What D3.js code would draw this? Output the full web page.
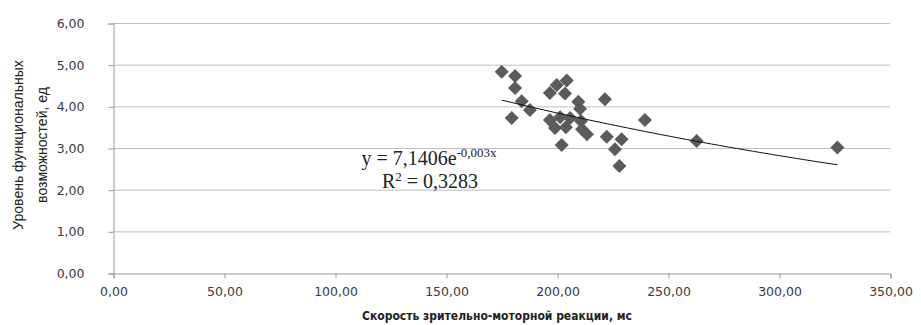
<!DOCTYPE html>
<html>
<head>
<meta charset="utf-8">
<script src="https://cdn.jsdelivr.net/npm/d3@7"></script>
<style>
  body { margin: 0; background: #fff; }
  svg { display: block; }
</style>
</head>
<body>
<div id="chart"></div>
<script>
var width = 921,
    height = 325;

// reaction time, ms
var speedValues = [175.1, 181.1, 181.1, 184.1, 187.8, 179.6,
    204.4, 199.9, 196.8, 203.6, 209.6, 210.4, 221.6,
    196.8, 201.4, 199.1, 204.0, 205.9, 210.8, 211.3, 213.5, 202.1,
    222.4, 229.1, 226.1, 228.1, 239.6, 262.9, 326.3];
// functional capability level
var levelValues = [4.83, 4.73, 4.44, 4.12, 3.91, 3.72,
    4.62, 4.51, 4.32, 4.31, 4.11, 3.94, 4.17,
    3.67, 3.74, 3.48, 3.50, 3.72, 3.65, 3.45, 3.33, 3.07,
    3.27, 3.21, 2.97, 2.57, 3.67, 3.17, 3.01];

var xTicks = [0, 50, 100, 150, 200, 250, 300, 350];
var yTicks = [0, 1, 2, 3, 4, 5, 6];

// exponential trend y = a * e^(b x)
var trendA = 7.1406,
    trendB = -0.0031;

var fmt = function(v) { return d3.format(".2f")(v).replace(".", ","); };

var x = d3.scaleLinear().domain([0, 350]).range([113, 890]);
var y = d3.scaleLinear().domain([0, 6]).range([273, 23]);

var svg = d3.select("#chart").append("svg")
    .attr("width", width)
    .attr("height", height);

// gridlines
svg.append("g")
    .selectAll("line")
    .data(yTicks.filter(function(d) { return d > 0; }))
    .enter().append("line")
    .attr("x1", x(0)).attr("x2", x(350))
    .attr("y1", function(d) { return y(d) + 0.5; })
    .attr("y2", function(d) { return y(d) + 0.5; })
    .attr("stroke", "#c0c0c0");

// y axis
var yAxis = svg.append("g")
    .attr("transform", "translate(" + (x(0) + 0.5) + ",0.5)")
    .call(d3.axisLeft(y).tickValues(yTicks).tickFormat(fmt).tickSize(5).tickPadding(24));
yAxis.select(".domain").attr("stroke", "#9a9a9a");
yAxis.selectAll(".tick line").attr("stroke", "#9a9a9a");
yAxis.selectAll("text")
    .attr("font-family", "DejaVu Sans, Verdana, sans-serif")
    .attr("font-size", 12.5)
    .attr("fill", "#3a3a3a");

// x axis
var xAxis = svg.append("g")
    .attr("transform", "translate(0.5," + (y(0) + 0.5) + ")")
    .call(d3.axisBottom(x).tickValues(xTicks).tickFormat(fmt).tickSize(5).tickPadding(9));
xAxis.select(".domain").attr("stroke", "#9a9a9a");
xAxis.selectAll(".tick line").attr("stroke", "#9a9a9a");
xAxis.selectAll("text")
    .attr("font-family", "DejaVu Sans, Verdana, sans-serif")
    .attr("font-size", 12.5)
    .attr("fill", "#3a3a3a");

// points
var points = speedValues.map(function(d, i) { return [d, levelValues[i]]; });
svg.append("g")
    .selectAll("path")
    .data(points)
    .enter().append("path")
    .attr("d", d3.symbol().type(d3.symbolSquare).size(98))
    .attr("transform", function(d) {
        return "translate(" + x(d[0]) + "," + y(d[1]) + ") rotate(45)";
    })
    .attr("fill", "#5b5b5b");

// trend line
var xMin = d3.min(speedValues), xMax = d3.max(speedValues);
var trend = d3.range(xMin, xMax + 0.01, (xMax - xMin) / 40).map(function(v) {
    return [v, trendA * Math.exp(trendB * v)];
});
svg.append("path")
    .datum(trend)
    .attr("d", d3.line().x(function(d) { return x(d[0]); }).y(function(d) { return y(d[1]); }))
    .attr("fill", "none")
    .attr("stroke", "#111")
    .attr("stroke-width", 1);

// equation
var eq = svg.append("text")
    .attr("x", 429).attr("y", 165)
    .attr("text-anchor", "middle")
    .attr("font-family", "Liberation Serif, Times New Roman, serif")
    .attr("font-size", 20)
    .attr("fill", "#222");
eq.append("tspan").text("y = 7,1406e");
eq.append("tspan").attr("dy", -8).attr("font-size", 13).text("-0,003x");

var r2 = svg.append("text")
    .attr("x", 430).attr("y", 188)
    .attr("text-anchor", "middle")
    .attr("font-family", "Liberation Serif, Times New Roman, serif")
    .attr("font-size", 20)
    .attr("fill", "#222");
r2.append("tspan").text("R");
r2.append("tspan").attr("dy", -7).attr("font-size", 13).text("2");
r2.append("tspan").attr("dy", 7).text(" = 0,3283");

// axis titles
svg.append("text")
    .attr("transform", "translate(23,145) rotate(-90)")
    .attr("text-anchor", "middle")
    .attr("font-family", "Liberation Sans, Arial, sans-serif")
    .attr("font-size", 14)
    .attr("fill", "#222")
    .text("Уровень функциональных");
svg.append("text")
    .attr("transform", "translate(47,145) rotate(-90)")
    .attr("text-anchor", "middle")
    .attr("font-family", "Liberation Sans, Arial, sans-serif")
    .attr("font-size", 14)
    .attr("fill", "#222")
    .text("возможностей, ед");

svg.append("text")
    .attr("x", 497).attr("y", 320)
    .attr("text-anchor", "middle")
    .attr("font-family", "DejaVu Sans Condensed, Liberation Sans, sans-serif")
    .attr("font-weight", "bold")
    .attr("font-size", 12)
    .attr("fill", "#222")
    .text("Скорость зрительно-моторной реакции, мс");
</script>
</body>
</html>
